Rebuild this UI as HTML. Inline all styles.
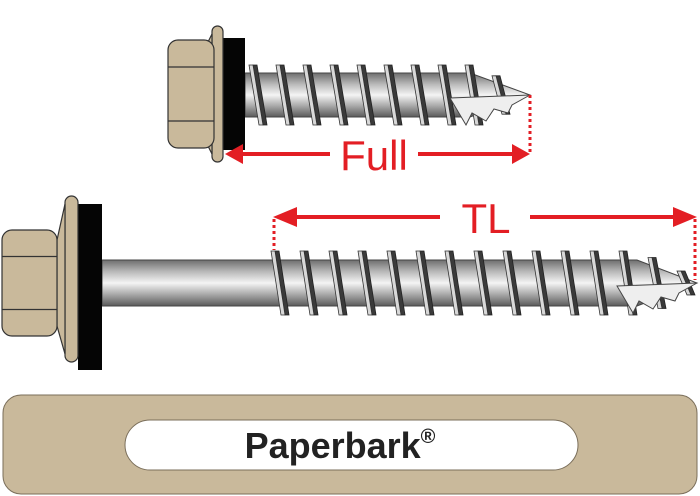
<!DOCTYPE html>
<html><head><style>html,body{margin:0;padding:0;background:#fff;width:700px;height:496px;overflow:hidden}</style></head>
<body>
<svg id="s" width="700" height="496" viewBox="0 0 700 496" xmlns="http://www.w3.org/2000/svg">
<defs>
<linearGradient id="sh" x1="0" y1="0" x2="0" y2="1">
<stop offset="0" stop-color="#6e6e6e"/><stop offset="0.25" stop-color="#b8b8b8"/><stop offset="0.5" stop-color="#f4f4f4"/><stop offset="0.75" stop-color="#a8a8a8"/><stop offset="1" stop-color="#5a5a5a"/>
</linearGradient>
</defs>
<rect x="3" y="395" width="694" height="99" rx="18" fill="#c9b99b" stroke="#7a6e5a" stroke-width="1"/>
<rect x="125" y="420" width="453" height="50" rx="25" fill="#fff" stroke="#7a6e5a" stroke-width="1"/>
<text x="340" y="458" text-anchor="middle" font-family="Liberation Sans, sans-serif" font-weight="bold" font-size="36" fill="#222">Paperbark<tspan font-size="20" dy="-15">®</tspan></text>
<g id="g"></g>
<line x1="240" y1="154" x2="330" y2="154" stroke="#e31e24" stroke-width="4"/>
<line x1="418" y1="154" x2="515" y2="154" stroke="#e31e24" stroke-width="4"/>
<polygon points="225,154 243,144 243,164" fill="#e31e24"/>
<polygon points="530,154 512,144 512,164" fill="#e31e24"/>
<line x1="530" y1="95" x2="530" y2="154" stroke="#e31e24" stroke-width="3" stroke-dasharray="3,3"/>
<text x="374" y="170" text-anchor="middle" font-family="Liberation Sans, sans-serif" font-size="42" fill="#e31e24">Full</text>
<line x1="290" y1="217" x2="440" y2="217" stroke="#e31e24" stroke-width="4"/>
<line x1="530" y1="217" x2="680" y2="217" stroke="#e31e24" stroke-width="4"/>
<polygon points="273,217 297,207 297,227" fill="#e31e24"/>
<polygon points="697,217 673,207 673,227" fill="#e31e24"/>
<line x1="274" y1="219" x2="274" y2="250" stroke="#e31e24" stroke-width="3" stroke-dasharray="3,3"/>
<line x1="695" y1="219" x2="695" y2="280" stroke="#e31e24" stroke-width="3" stroke-dasharray="3,3"/>
<text x="486" y="233" text-anchor="middle" font-family="Liberation Sans, sans-serif" font-size="42" fill="#e31e24">TL</text>
</svg>
<script>
var g=document.getElementById('g'),h='';
function screw(hx,hw,top,bot,fx,fw,ftop,fbot,wx,ww,wtop,wbot,sx,tx,ex,cy,r,tr,pitch){
 h+='<path d="M'+sx+','+(cy-r)+' L'+(ex-60)+','+(cy-r)+' L'+ex+','+cy+' L'+(ex-60)+','+(cy+r)+' L'+sx+','+(cy+r)+'Z" fill="url(#sh)" stroke="#444" stroke-width="1"/>';
 for(var x=tx;x<ex-12;x+=pitch){
  var k=(x>ex-60)?(ex-x)/60:1; var rr=r*k+4*(1-k); var t=tr*k;
  var y1=cy-rr-t, y2=cy+rr+t;
  h+='<polygon points="'+(x+1)+','+y1+' '+(x+5)+','+y1+' '+(x+15)+','+y2+' '+(x+11)+','+y2+'" fill="#3a3a3a" stroke="#222" stroke-width="0.8"/>';
  h+='<polygon points="'+(x-3)+','+y1+' '+(x+1)+','+y1+' '+(x+11)+','+y2+' '+(x+7)+','+y2+'" fill="#d8d8d8" stroke="#333" stroke-width="0.8"/>';
 }
 h+='<polygon points="'+(ex-80)+','+(cy+3)+' '+ex+','+cy+' '+(ex-18)+','+(cy+10)+' '+(ex-22)+','+(cy+18)+' '+(ex-36)+','+(cy+14)+' '+(ex-44)+','+(cy+26)+' '+(ex-58)+','+(cy+18)+' '+(ex-64)+','+(cy+30)+'" fill="#eee" stroke="#444" stroke-width="1"/>';
 h+='<rect x="'+wx+'" y="'+wtop+'" width="'+ww+'" height="'+(wbot-wtop)+'" fill="#050505"/>';
 h+='<rect x="'+fx+'" y="'+ftop+'" width="'+fw+'" height="'+(fbot-ftop)+'" rx="'+(fw/2)+'" fill="#c9b99b" stroke="#333" stroke-width="1.2"/>';
 h+='<polygon points="'+(fx-8)+','+(top+10)+' '+fx+','+(ftop+8)+' '+fx+','+(fbot-8)+' '+(fx-8)+','+(bot-10)+'" fill="#c9b99b" stroke="#333" stroke-width="1.2"/>';
 var hh=bot-top;
 h+='<rect x="'+hx+'" y="'+top+'" width="'+hw+'" height="'+hh+'" rx="10" fill="#c9b99b" stroke="#333" stroke-width="1.2"/>';
 h+='<line x1="'+hx+'" y1="'+(top+hh*0.25)+'" x2="'+(hx+hw)+'" y2="'+(top+hh*0.25)+'" stroke="#333" stroke-width="1.2"/>';
 h+='<line x1="'+hx+'" y1="'+(top+hh*0.75)+'" x2="'+(hx+hw)+'" y2="'+(top+hh*0.75)+'" stroke="#333" stroke-width="1.2"/>';
}
screw(168,46,40,148, 212,11,26,162, 223,22,38,150, 245,252,530,95,22,8,27);
screw(2,55,230,336, 65,13,196,362, 78,24,204,370, 102,274,697,283,23,9,29);
g.innerHTML=h;
</script>
</body></html>
